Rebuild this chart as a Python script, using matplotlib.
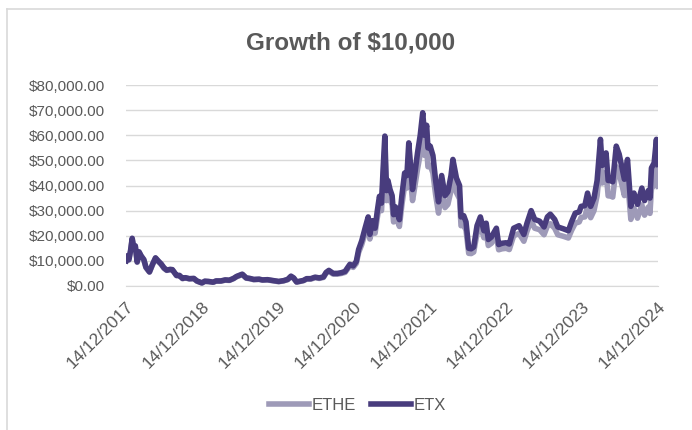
import matplotlib
matplotlib.use("Agg")
import matplotlib.pyplot as plt
import matplotlib.dates as mdates
import matplotlib.transforms as mtransforms
from matplotlib.lines import Line2D
from matplotlib.ticker import FuncFormatter
import pandas as pd

# GROWTH OF $10,000
dates = [
    "2017-12-14", "2017-12-20", "2017-12-28", "2018-01-05", "2018-01-13", "2018-01-20", "2018-01-28",
    "2018-02-06", "2018-02-15", "2018-02-25", "2018-03-10", "2018-03-20", "2018-04-06", "2018-04-20",
    "2018-05-05", "2018-05-20", "2018-06-01", "2018-06-15", "2018-06-28", "2018-07-15", "2018-07-25",
    "2018-08-14", "2018-08-28", "2018-09-12", "2018-09-25", "2018-10-15", "2018-11-05", "2018-11-20",
    "2018-12-14", "2018-12-28", "2019-01-15", "2019-02-06", "2019-02-20", "2019-03-15", "2019-04-05",
    "2019-04-25", "2019-05-15", "2019-05-30", "2019-06-26", "2019-07-15", "2019-08-01", "2019-08-20",
    "2019-09-15", "2019-10-01", "2019-10-25", "2019-11-25", "2019-12-18", "2020-01-10", "2020-01-30",
    "2020-02-15", "2020-02-28", "2020-03-13", "2020-03-30", "2020-04-15", "2020-04-30", "2020-05-20",
    "2020-06-10", "2020-06-30", "2020-07-20", "2020-08-02", "2020-08-15", "2020-09-05", "2020-09-25",
    "2020-10-15", "2020-11-01", "2020-11-24", "2020-12-10", "2020-12-25", "2021-01-05", "2021-01-20",
    "2021-02-05", "2021-02-20", "2021-02-28", "2021-03-13", "2021-03-25", "2021-04-05", "2021-04-15",
    "2021-04-25", "2021-05-03", "2021-05-11", "2021-05-19", "2021-05-26", "2021-06-05", "2021-06-15",
    "2021-06-22", "2021-07-01", "2021-07-10", "2021-07-20", "2021-08-01", "2021-08-14", "2021-08-25",
    "2021-09-03", "2021-09-21", "2021-10-01", "2021-10-15", "2021-10-28", "2021-11-09", "2021-11-18",
    "2021-11-28", "2021-12-04", "2021-12-15", "2021-12-28", "2022-01-10", "2022-01-24", "2022-02-08",
    "2022-02-24", "2022-03-10", "2022-03-25", "2022-04-03", "2022-04-20", "2022-05-05", "2022-05-12",
    "2022-05-25", "2022-06-05", "2022-06-18", "2022-06-30", "2022-07-12", "2022-07-28", "2022-08-13",
    "2022-08-30", "2022-09-10", "2022-09-20", "2022-10-05", "2022-10-29", "2022-11-09", "2022-11-25",
    "2022-12-15", "2022-12-30", "2023-01-20", "2023-02-15", "2023-03-10", "2023-03-25", "2023-04-14",
    "2023-05-01", "2023-05-25", "2023-06-15", "2023-07-01", "2023-07-15", "2023-08-05", "2023-08-20",
    "2023-09-15", "2023-10-10", "2023-10-25", "2023-11-12", "2023-12-01", "2023-12-10", "2023-12-28",
    "2024-01-10", "2024-01-25", "2024-02-10", "2024-02-25", "2024-03-12", "2024-03-20", "2024-04-08",
    "2024-04-18", "2024-05-01", "2024-05-10", "2024-05-27", "2024-06-10", "2024-06-24", "2024-07-05",
    "2024-07-20", "2024-08-05", "2024-08-20", "2024-09-06", "2024-09-27", "2024-10-10", "2024-10-28",
    "2024-11-05", "2024-11-12", "2024-11-25", "2024-12-06", "2024-12-10", "2024-12-14",
]

etx = [
    10000, 12000, 10500, 14000, 19000, 15500, 16000,
    9600, 13600, 12000, 10500, 7500, 5600, 8500,
    11200, 9800, 8800, 7200, 6300, 6600, 6500,
    4200, 4200, 3000, 3300, 2900, 3000, 2000,
    1200, 1900, 1800, 1500, 2000, 2000, 2400,
    2300, 3000, 3800, 4700, 3200, 3000, 2600,
    2700, 2400, 2500, 2100, 1800, 2100, 2600,
    3900, 3200, 1600, 1900, 2200, 2900, 2900,
    3500, 3200, 3600, 5400, 6200, 5000, 5000,
    5300, 5800, 8600, 8000, 9800, 14500, 18000,
    23000, 27500, 20500, 26000, 23000, 30000, 35700,
    33000, 47000, 59700, 38000, 42000, 38400, 36000,
    28400, 31500, 29000, 26400, 36000, 45000, 44000,
    57000, 38400, 44000, 53000, 60000, 69000, 60000,
    64000, 55000, 55700, 52000, 42000, 33500, 44000,
    36000, 37500, 44000, 50400, 43000, 40000, 27500,
    28000, 25500, 15000, 14800, 15500, 24000, 27500,
    22000, 25000, 18500, 19500, 23000, 16500, 17000,
    17200, 16700, 23000, 24000, 20500, 25000, 30000,
    26500, 25800, 23500, 27500, 28600, 26500, 23500,
    22800, 22000, 25500, 29000, 29500, 31700, 32000,
    37000, 31700, 35000, 42000, 58400, 48000, 53000,
    42000, 42000, 41500, 55700, 52500, 47000, 42500,
    50400, 31700, 37000, 32500, 39000, 34000, 38000,
    35000, 47000, 49000, 58400, 51000, 48400,
]

ethe = [
    10000, 11800, 10300, 13700, 18600, 15200, 15700,
    9400, 13300, 11800, 10300, 7300, 5500, 8300,
    11000, 9600, 8600, 7000, 6200, 6500, 6400,
    4100, 4100, 2900, 3200, 2800, 2900, 1900,
    1200, 1800, 1700, 1500, 1900, 1900, 2300,
    2200, 2900, 3700, 4500, 3100, 2900, 2500,
    2600, 2300, 2400, 2000, 1700, 2000, 2500,
    3700, 3000, 1500, 1800, 2100, 2700, 2700,
    3300, 3000, 3400, 5100, 5800, 4700, 4700,
    5000, 5400, 8000, 7400, 9000, 13300, 16500,
    21000, 25000, 18700, 23700, 21000, 27300, 32500,
    30000, 43000, 55000, 34000, 37800, 34500, 32400,
    25500, 28300, 26000, 23700, 32300, 40000, 39000,
    50500, 34000, 39000, 46500, 52500, 59500, 52000,
    55000, 47500, 48000, 45000, 36300, 29000, 38000,
    31200, 32500, 38000, 43500, 37200, 34700, 24000,
    24300, 22200, 13000, 12900, 13500, 20900, 24000,
    19200, 21800, 16100, 17000, 20000, 14400, 14800,
    15000, 14500, 20000, 20900, 17800, 21800, 26000,
    23000, 22400, 20400, 23900, 24800, 23000, 20400,
    19800, 19100, 22100, 25000, 25500, 27300, 27500,
    31800, 27200, 30000, 36000, 50000, 41000, 45300,
    35900, 35800, 35400, 47500, 44700, 40000, 36000,
    42700, 26500, 31000, 27000, 32300, 28200, 31400,
    28900, 38700, 40300, 48000, 41800, 39700,
]

tick_dates = ["2017-12-14", "2018-12-14", "2019-12-14", "2020-12-14",
              "2021-12-14", "2022-12-14", "2023-12-14", "2024-12-14"]

# STYLE
plt.rcParams['font.family'] = ['Liberation Sans', 'DejaVu Sans']
TEXT_GREY = '#595959'
GRID_GREY = '#D9D9D9'

df = pd.DataFrame({'Date': pd.to_datetime(dates), 'ETHE': ethe, 'ETX': etx}).set_index('Date')

fig = plt.figure(figsize=(6.92, 4.30), dpi=100)
ax = fig.add_axes([0.182, 0.335, 0.769, 0.467])

ax.plot(df.index, df['ETHE'], color='#9E9AB8', linewidth=4.0, solid_joinstyle='round', label='ETHE')
ax.plot(df.index, df['ETX'], color='#483C7D', linewidth=4.0, solid_joinstyle='round', label='ETX')

ax.set_ylim(0, 80000)
ax.set_yticks(range(0, 80001, 10000))
ax.yaxis.set_major_formatter(FuncFormatter(lambda v, p: f"${v:,.2f}"))
ax.set_xlim(pd.Timestamp(tick_dates[0]), pd.Timestamp(tick_dates[-1]))
ax.set_xticks(pd.to_datetime(tick_dates))
ax.xaxis.set_major_formatter(mdates.DateFormatter('%d/%m/%Y'))

ax.grid(axis='y', color=GRID_GREY, linewidth=1.0)
ax.set_axisbelow(True)
for side in ['top', 'right', 'left']:
    ax.spines[side].set_visible(False)
ax.spines['bottom'].set_color(GRID_GREY)

ax.tick_params(axis='y', length=0, pad=15, labelsize=11, labelcolor=TEXT_GREY)
ax.tick_params(axis='x', length=0, pad=13, labelsize=12.5, labelcolor=TEXT_GREY)
shift = mtransforms.ScaledTranslation(0.05, 0, fig.dpi_scale_trans)
for lbl in ax.get_xticklabels():
    lbl.set_rotation(45)
    lbl.set_ha('right')
    lbl.set_va('center')
    lbl.set_rotation_mode('anchor')
    lbl.set_transform(lbl.get_transform() + shift)

fig.text(0.507, 0.90, "Growth of $10,000", ha='center', va='center',
         fontsize=17.5, fontweight='bold', color=TEXT_GREY)

fig.legend(loc='center', bbox_to_anchor=(0.517, 0.058), ncol=2, frameon=False,
           fontsize=12, labelcolor=TEXT_GREY, handlelength=2.4, handletextpad=0.15,
           columnspacing=0.9)

# chart area border (top and left edges visible in the crop)
fig.add_artist(Line2D([0.010, 1.0], [0.979, 0.979], color=GRID_GREY, linewidth=1.2))
fig.add_artist(Line2D([0.010, 0.010], [0.0, 0.979], color=GRID_GREY, linewidth=1.2))

fig.savefig("out.png", dpi=100)
